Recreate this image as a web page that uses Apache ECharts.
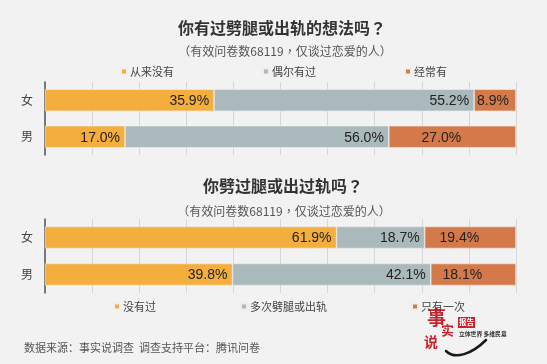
<!DOCTYPE html>
<html><head><meta charset="utf-8">
<script src="https://cdn.jsdelivr.net/npm/echarts@6/dist/echarts.min.js"></script>
<style>html,body{margin:0;padding:0;background:#f2f2f2;}#c{width:547px;height:364px;}</style>
</head><body><div id="c"></div>
<script>
var genders = ['女', '男'];
var title1 = '你有过劈腿或出轨的想法吗{q|？}';
var title2 = '你劈过腿或出过轨吗{q|？}';
var subtitle = '{p|（}有效问卷数68119{p|，}仅谈过恋爱的人{p|）}';
var names1 = ['从来没有', '偶尔有过', '经常有'];
var never1 = [35.9, 17.0];
var sometimes1 = [55.2, 56.0];
var often1 = [8.9, 27.0];
var names2 = ['没有过', '多次劈腿或出轨', '只有一次'];
var never2 = [61.9, 39.8];
var multiple2 = [18.7, 42.1];
var once2 = [19.4, 18.1];
var xTicks = [0, 10, 20, 30, 40, 50, 60, 70, 80, 90, 100];
var footer = '数据来源：事实说调查  调查支持平台：腾讯问卷';

var colors = ['#f4ae3d', '#a9b9bc', '#d47a4a'];
var numFont = "'Liberation Sans', Arial, sans-serif";
var cjk = "'Noto Sans CJK SC', sans-serif";
var cjkTC = "'Noto Sans CJK TC', sans-serif";

function fmt(p) { return p.value.toFixed(1) + '%'; }
function bar(name, data, color, grid, lastSeries) {
  return {
    type: 'bar', name: name, stack: 's' + grid, xAxisIndex: grid, yAxisIndex: grid,
    barWidth: 22,
    itemStyle: { color: color, borderColor: '#eeeeee', borderWidth: 0.6 },
    label: {
      show: true,
      position: lastSeries ? 'inside' : 'insideRight',
      distance: 5,
      offset: lastSeries ? [-11, 1] : [0, 1],
      formatter: fmt, fontFamily: numFont, fontSize: 14, color: '#222'
    },
    data: data.map(function (v) {
      if (lastSeries && v < 10) return { value: v, label: { offset: [-2, 1] } };
      return v;
    })
  };
}
function xAx(grid) {
  return {
    type: 'value', gridIndex: grid, min: xTicks[0], max: xTicks[xTicks.length - 1], interval: 10,
    axisLabel: { show: false }, axisLine: { show: false }, axisTick: { show: false },
    splitLine: { show: true, lineStyle: { color: '#d6d6d6', width: 1 } }
  };
}
function yAx(grid) {
  return {
    type: 'category', gridIndex: grid, data: genders, inverse: true,
    axisLine: { show: true, lineStyle: { color: '#555', width: 1.5 } },
    axisTick: { show: false },
    axisLabel: { fontFamily: cjk, fontSize: 12, color: '#444', margin: 12 }
  };
}
var titleStyle = { fontFamily: cjk, fontSize: 16, fontWeight: 'bold', color: '#333',
  rich: { q: { fontFamily: cjkTC, fontSize: 16, fontWeight: 'bold', color: '#333' } } };
var subStyle = { fontFamily: cjk, fontSize: 12, fontWeight: 'normal', color: '#555',
  rich: { p: { fontFamily: cjkTC, fontSize: 12, color: '#555' } } };

var chart = echarts.init(document.getElementById('c'));
chart.setOption({
  backgroundColor: '#f2f2f2',
  animation: false,
  title: [
    { text: title1, left: 277, top: 15, textAlign: 'center', textStyle: titleStyle },
    { text: subtitle, left: 280, top: 40, textAlign: 'center', textStyle: subStyle },
    { text: title2, left: 278, top: 173, textAlign: 'center', textStyle: titleStyle },
    { text: subtitle, left: 279, top: 200, textAlign: 'center', textStyle: subStyle }
  ],
  legend: [
    { data: names1, left: 115, top: 61, icon: 'rect', itemWidth: 6, itemHeight: 6, itemGap: 88,
      textStyle: { fontFamily: cjk, fontSize: 11, color: '#444', padding: [0, 0, 0, -2] } },
    { data: names2, left: 108, top: 296, icon: 'rect', itemWidth: 6, itemHeight: 6, itemGap: 84,
      textStyle: { fontFamily: cjk, fontSize: 11, color: '#444', padding: [0, 0, 0, -2] } }
  ],
  grid: [
    { left: 45, right: 31, top: 82, height: 73 },
    { left: 45, right: 31, top: 219, height: 74 }
  ],
  xAxis: [xAx(0), xAx(1)],
  yAxis: [yAx(0), yAx(1)],
  series: [
    bar(names1[0], never1, colors[0], 0, false),
    bar(names1[1], sometimes1, colors[1], 0, false),
    bar(names1[2], often1, colors[2], 0, true),
    bar(names2[0], never2, colors[0], 1, false),
    bar(names2[1], multiple2, colors[1], 1, false),
    bar(names2[2], once2, colors[2], 1, true)
  ],
  graphic: [
    { type: 'text', left: 24, top: 342, style: { text: footer, fontFamily: cjk, fontSize: 11, fill: '#555' } },
    { type: 'bezierCurve', shape: { x1: 446, y1: 351, cpx1: 455, cpy1: 360, cpx2: 472, cpy2: 354, x2: 486, y2: 340 },
      style: { stroke: '#1a1a1a', lineWidth: 2.5, fill: null, lineCap: 'round' } },
    { type: 'text', x: 427, y: 308, style: { text: '事', fontFamily: "'Noto Sans CJK SC'", fontWeight: 'bold', fontSize: 19, fill: '#c8232c' } },
    { type: 'text', x: 441, y: 324, style: { text: '实', fontFamily: "'Noto Sans CJK SC'", fontWeight: 'bold', fontSize: 13, fill: '#c8232c' } },
    { type: 'text', x: 424, y: 335, style: { text: '说', fontFamily: "'Noto Sans CJK SC'", fontWeight: 'bold', fontSize: 14, fill: '#c8232c' } },
    { type: 'rect', shape: { x: 458, y: 317, width: 17, height: 11 }, style: { fill: '#c8232c' } },
    { type: 'text', x: 459, y: 318, style: { text: '报告', fontFamily: cjk, fontWeight: 'bold', fontSize: 7.5, fill: '#fff' } },
    { type: 'text', x: 459, y: 331, style: { text: '立体世界 多维民意', fontFamily: "'Noto Sans CJK SC'", fontWeight: 'bold', fontSize: 5.8, fill: '#333' } }
  ]
});
</script>
</body></html>
